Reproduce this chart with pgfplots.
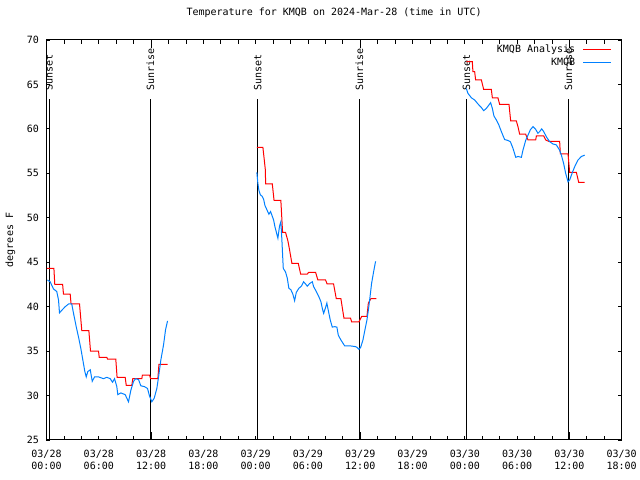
\documentclass[border=0pt]{standalone}
\usepackage{fontspec}
\setmainfont{DejaVu Sans Mono}
\usepackage{pgfplots}
\pgfplotsset{compat=1.18}
\definecolor{obsblue}{RGB}{0,128,255}
\definecolor{anared}{RGB}{255,0,0}
\begin{document}
\begin{tikzpicture}[font=\fontsize{10bp}{12bp}\selectfont]
\useasboundingbox (-46.5bp,-40bp) rectangle (593.5bp,440bp);
\begin{axis}[
  at={(0,0)}, anchor=south west,
  scale only axis, width=575.2bp, height=400bp,
  xmin=0, xmax=66, ymin=25, ymax=70,
  axis line style={line width=1bp},
  tick style={line width=0.8bp, black},
  xtick={0,6,...,66},
  xticklabels={03/28\\00:00,03/28\\06:00,03/28\\12:00,03/28\\18:00,03/29\\00:00,03/29\\06:00,03/29\\12:00,03/29\\18:00,03/30\\00:00,03/30\\06:00,03/30\\12:00,03/30\\18:00},
  xticklabel style={align=center, anchor=north, yshift=-7bp},
  minor x tick num=2,
  major tick length=4bp, minor tick length=4bp,
  extra x ticks={12,36,60}, extra x tick labels={},
  extra x tick style={major tick length=8bp},
  ytick={25,30,...,70},
  yticklabel style={xshift=-4bp},
  /pgf/number format/assume math mode=true,
  title={Temperature for KMQB on 2024-Mar-28 (time in UTC)},
  title style={at={(0.5,1)}, anchor=center, yshift=21bp},
  ylabel={degrees F},
  ylabel style={at={(axis description cs:-0.0626,0.5)}, anchor=center},
  legend style={draw=none, fill=none, at={(rel axis cs:0.983,0.992)}, anchor=north east, inner sep=0pt, row sep=1bp, column sep=6bp, nodes={inner sep=1.5bp}},
  legend cell align=right,
  legend plot pos=right,
  legend image code/.code={\draw[#1] (0bp,0bp) -- (28bp,0bp);},
]
% sunrise / sunset lines
\addplot[black, line width=1bp, forget plot] coordinates {(0.29,25) (0.29,63.35)};
\addplot[black, line width=1bp, forget plot] coordinates {(11.93,25) (11.93,63.35)};
\addplot[black, line width=1bp, forget plot] coordinates {(24.23,25) (24.23,63.35)};
\addplot[black, line width=1bp, forget plot] coordinates {(35.9,25) (35.9,63.35)};
\addplot[black, line width=1bp, forget plot] coordinates {(48.2,25) (48.2,63.35)};
\addplot[black, line width=1bp, forget plot] coordinates {(59.87,25) (59.87,63.35)};
\node[rotate=90, anchor=west, inner sep=0pt, xshift=1.5bp] at (axis cs:0.29,64.15) {Sunset};
\node[rotate=90, anchor=west, inner sep=0pt, xshift=1.5bp] at (axis cs:11.93,64.15) {Sunrise};
\node[rotate=90, anchor=west, inner sep=0pt, xshift=1.5bp] at (axis cs:24.23,64.15) {Sunset};
\node[rotate=90, anchor=west, inner sep=0pt, xshift=1.5bp] at (axis cs:35.9,64.15) {Sunrise};
\node[rotate=90, anchor=west, inner sep=0pt, xshift=1.5bp] at (axis cs:48.2,64.15) {Sunset};
\node[rotate=90, anchor=west, inner sep=0pt, xshift=1.5bp] at (axis cs:59.87,64.15) {Sunrise};

% Analysis (red)
\addplot[anared, line width=1bp] coordinates {
(0.03,44.3)(0.85,44.3)(0.95,42.5)(1.85,42.5)(1.95,41.4)(2.72,41.4)(2.82,40.3)(3.79,40.3)(4.05,37.3)(4.86,37.3)(5.05,35.0)(5.97,35.0)(6.05,34.3)(6.92,34.3)(7.0,34.1)(7.95,34.1)(8.1,32.05)(9.03,32.05)(9.15,31.15)(9.79,31.15)(9.9,31.9)(10.94,31.9)(11.0,32.3)(11.82,32.3)(11.95,31.9)(12.78,31.9)(12.9,33.5)(13.89,33.5)
};
\addlegendentry{KMQB Analysis}
% Observed (blue)
\addplot[obsblue, line width=1bp] coordinates {
(0.11,43.0)(0.42,42.8)(0.80,42.0)(1.18,41.7)(1.38,40.75)(1.49,39.3)(1.76,39.6)(2.15,40.0)(2.53,40.3)(2.90,40.3)(3.10,39.25)(3.41,37.75)(3.67,36.6)(3.94,35.3)(4.17,34.0)(4.40,32.7)(4.56,32.1)(4.74,32.7)(5.02,32.9)(5.25,31.6)(5.51,32.1)(5.97,32.1)(6.54,31.9)(6.92,32.05)(7.31,31.9)(7.58,31.5)(7.81,31.9)(8.07,31.0)(8.18,30.1)(8.53,30.3)(9.03,30.1)(9.41,29.3)(9.68,30.6)(9.99,31.6)(10.22,31.9)(10.56,31.8)(10.82,31.1)(11.25,31.0)(11.59,30.8)(11.82,29.95)(12.09,29.3)(12.36,29.7)(12.66,30.8)(12.86,32.1)(13.12,34.0)(13.43,35.7)(13.66,37.4)(13.89,38.4)
};
\addlegendentry{KMQB}
\addplot[anared, line width=1bp, forget plot] coordinates {
(24.14,57.93)(24.83,57.93)(25.1,55.5)(25.15,53.8)(25.91,53.8)(26.11,51.96)(26.89,51.96)(27.09,48.35)(27.43,48.35)(27.70,47.4)(27.89,46.4)(28.09,45.25)(28.16,44.87)(28.89,44.87)(29.16,43.67)(29.92,43.67)(30.07,43.85)(30.88,43.85)(31.14,43.0)(32.02,43.0)(32.2,42.55)(32.94,42.55)(33.25,40.9)(33.78,40.9)(34.13,38.7)(34.89,38.7)(35.01,38.3)(35.85,38.3)(36.16,38.9)(36.77,38.9)(36.93,40.4)(37.22,40.9)(37.84,40.9)
};
\addplot[obsblue, line width=1bp, forget plot] coordinates {
(24.14,55.1)(24.25,53.9)(24.37,53.1)(24.53,52.6)(24.76,52.4)(24.91,52.1)(25.06,51.4)(25.29,50.9)(25.52,50.4)(25.71,50.7)(25.86,50.3)(26.06,49.75)(26.21,49.0)(26.37,48.4)(26.55,47.7)(26.74,49.07)(26.89,49.55)(27.01,47.5)(27.12,45.25)(27.17,44.3)(27.43,43.9)(27.63,43.2)(27.81,42.07)(28.04,41.9)(28.27,41.4)(28.47,40.67)(28.66,41.6)(28.96,42.07)(29.24,42.3)(29.50,42.8)(29.73,42.55)(29.92,42.3)(30.19,42.6)(30.50,42.8)(30.65,42.25)(30.96,41.7)(31.26,41.1)(31.49,40.55)(31.65,39.8)(31.80,39.25)(31.99,39.8)(32.17,40.4)(32.33,39.6)(32.56,38.5)(32.79,37.7)(33.09,37.75)(33.32,37.7)(33.48,36.8)(33.75,36.3)(34.01,35.9)(34.21,35.6)(34.78,35.6)(35.47,35.5)(35.66,35.4)(35.85,35.2)(36.04,35.4)(36.31,36.25)(36.54,37.4)(36.77,38.5)(36.93,39.6)(37.08,40.75)(37.30,42.6)(37.53,43.9)(37.76,45.1)
};
\addplot[anared, line width=1bp, forget plot] coordinates {
(48.17,67.56)(48.86,67.56)(48.93,66.43)(49.13,66.43)(49.24,65.5)(49.90,65.5)(50.16,64.45)(51.04,64.45)(51.16,63.5)(51.80,63.5)(52.00,62.75)(53.07,62.75)(53.26,60.9)(53.91,60.9)(54.10,60.25)(54.29,59.4)(54.98,59.4)(55.25,58.75)(56.13,58.75)(56.21,59.2)(57.05,59.2)(57.28,58.75)(57.62,58.6)(58.88,58.6)(58.96,57.2)(59.84,57.2)(60.03,55.1)(60.80,55.1)(61.07,53.97)(61.75,53.97)
};
\addplot[obsblue, line width=1bp, forget plot] coordinates {
(48.17,64.55)(48.36,64.0)(48.75,63.5)(49.13,63.25)(49.51,62.8)(49.90,62.4)(50.16,62.05)(50.47,62.3)(50.77,62.7)(50.96,62.95)(51.16,62.3)(51.34,61.45)(51.62,61.0)(51.92,60.4)(52.19,59.7)(52.57,58.8)(52.95,58.7)(53.23,58.55)(53.53,57.8)(53.84,56.8)(54.10,56.9)(54.49,56.8)(54.67,57.6)(54.98,58.7)(55.25,59.3)(55.52,59.9)(55.82,60.25)(56.13,59.95)(56.39,59.5)(56.59,59.7)(56.82,60.0)(57.05,59.7)(57.36,59.1)(57.74,58.55)(58.12,58.3)(58.50,58.2)(58.88,57.6)(59.08,57.05)(59.34,56.1)(59.57,55.0)(59.84,54.05)(60.03,54.25)(60.34,55.1)(60.61,55.75)(60.99,56.5)(61.38,56.9)(61.76,57.05)
};
\end{axis}
\end{tikzpicture}
\end{document}
